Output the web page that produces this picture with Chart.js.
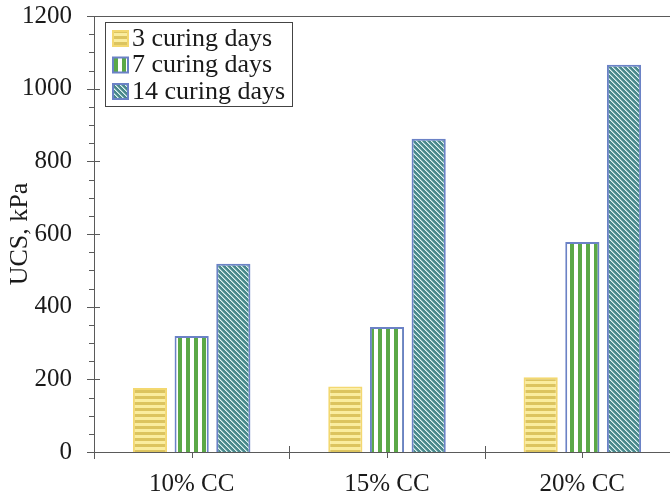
<!DOCTYPE html>
<html>
<head>
<meta charset="utf-8">
<script src="https://cdn.jsdelivr.net/npm/chart.js@4"></script>
<style>
  html, body { margin: 0; padding: 0; background: #fff; }
  #wrap { width: 670px; height: 496px; overflow: hidden; position: relative; }
  canvas { display: block; }
</style>
</head>
<body>
<div id="wrap"><canvas id="myChart" width="682" height="496"></canvas></div>
<script>
const categories = ['10% CC', '15% CC', '20% CC'];
const seriesLabels = ['3 curing days', '7 curing days', '14 curing days'];
const days3 = [176, 180, 206];
const days7 = [319, 344, 578];
const days14 = [518, 862, 1066];
const yTickLabels = [0, 200, 400, 600, 800, 1000, 1200];

const FONT = '"Liberation Serif", "Times New Roman", serif';

function makePattern(kind) {
    const c = document.createElement('canvas');
    const g = c.getContext('2d');
    if (kind === 'h') {
        c.width = 8; c.height = 6;
        g.fillStyle = '#faed9f';
        g.fillRect(0, 0, 8, 6);
        g.fillStyle = '#dcc45f';
        g.fillRect(0, 0, 8, 3);
    } else if (kind === 'v') {
        c.width = 8; c.height = 8;
        g.fillStyle = '#ffffff';
        g.fillRect(0, 0, 8, 8);
        g.fillStyle = '#5ba847';
        g.fillRect(2, 0, 4, 8);
    } else {
        c.width = 5; c.height = 5;
        g.fillStyle = '#4a898c';
        g.fillRect(0, 0, 5, 5);
        for (let i = 0; i < 5; i++) {
            g.fillStyle = '#e2f1f1';
            g.fillRect(i, i, 1, 1);
            g.fillStyle = '#93c0c1';
            g.fillRect((i + 1) % 5, i, 1, 1);
        }
    }
    return g.createPattern(c, 'repeat');
}

const fills = [makePattern('h'), makePattern('v'), makePattern('d')];
const borders = ['#f3d870', '#6b82c6', '#6b82c6'];

// axis ticks, frame and legend box
const decorations = {
    id: 'decorations',
    afterDraw(chart) {
        const ctx = chart.ctx;
        const area = chart.chartArea;
        const y = chart.scales.y;
        const x = chart.scales.x;
        ctx.save();
        ctx.strokeStyle = '#5a5a5a';
        ctx.lineWidth = 1;
        // frame
        ctx.beginPath();
        ctx.moveTo(area.left, area.top + 0.5);
        ctx.lineTo(area.right, area.top + 0.5);
        ctx.moveTo(area.left + 0.5, area.top);
        ctx.lineTo(area.left + 0.5, area.bottom);
        ctx.moveTo(area.left, area.bottom + 0.5);
        ctx.lineTo(area.right, area.bottom + 0.5);
        ctx.stroke();
        // y ticks
        ctx.beginPath();
        for (let v = 0; v <= 1200; v += 50) {
            const py = Math.round(y.getPixelForValue(v)) + 0.5;
            const major = v % 200 === 0;
            ctx.moveTo(area.left - (major ? 7 : 5), py);
            ctx.lineTo(area.left + (major ? 6 : 0), py);
        }
        // x ticks
        for (let i = 0; i <= categories.length; i++) {
            const px = Math.round(area.left + i * (area.right - area.left) / categories.length) + 0.5;
            ctx.moveTo(px, area.bottom - 6);
            ctx.lineTo(px, area.bottom + 7);
        }
        for (let i = 0; i < categories.length; i++) {
            const px = Math.round(x.getPixelForValue(i)) + 0.5;
            ctx.moveTo(px, area.bottom);
            ctx.lineTo(px, area.bottom + 6);
        }
        ctx.stroke();

        // legend
        const lx = 105, ly = 22, lw = 187, lh = 84;
        ctx.fillStyle = '#fff';
        ctx.fillRect(lx, ly, lw, lh);
        ctx.strokeStyle = '#444';
        ctx.strokeRect(lx + 0.5, ly + 0.5, lw, lh);
        ctx.font = '26px ' + FONT;
        ctx.textBaseline = 'middle';
        chart.data.datasets.forEach((ds, i) => {
            const cy = ly + 16 + i * 26.5;
            ctx.fillStyle = ds.backgroundColor;
            ctx.fillRect(113, cy - 7, 15, 15);
            ctx.strokeStyle = ds.borderColor;
            ctx.lineWidth = 2;
            ctx.strokeRect(113, cy - 7, 15, 15);
            ctx.fillStyle = '#1a1a1a';
            ctx.fillText(ds.label, 132, cy + 1);
        });
        ctx.restore();
    }
};

const ctx = document.getElementById('myChart').getContext('2d');
const myChart = new Chart(ctx, {
    type: 'bar',
    data: {
        labels: categories,
        datasets: [days3, days7, days14].map((d, i) => ({
            label: seriesLabels[i],
            data: d,
            backgroundColor: fills[i],
            borderColor: borders[i],
            borderWidth: 2,
            categoryPercentage: 0.64,
            barPercentage: 0.82
        }))
    },
    options: {
        responsive: false,
        animation: false,
        layout: { padding: { top: 16, right: 2, left: 0, bottom: 0 } },
        plugins: {
            legend: { display: false },
            tooltip: { enabled: false }
        },
        scales: {
            x: {
                grid: { display: false, drawTicks: false },
                border: { display: false },
                ticks: { color: '#1a1a1a', font: { family: FONT, size: 25 }, padding: 17, maxRotation: 0 },
                afterFit(scale) {
                    scale.height = 44;
                    scale.paddingLeft = 0;
                    scale.paddingRight = 0;
                }
            },
            y: {
                min: 0,
                max: 1200,
                afterBuildTicks(scale) {
                    scale.ticks = yTickLabels.map(v => ({ value: v }));
                },
                grid: { display: false, drawTicks: false },
                border: { display: false },
                ticks: {
                    color: '#1a1a1a',
                    font: { family: FONT, size: 25 },
                    padding: 22,
                    callback: v => String(v)
                },
                title: {
                    display: true,
                    text: 'UCS, kPa',
                    color: '#1a1a1a',
                    font: { family: FONT, size: 26 },
                    padding: { top: 5, bottom: 0 }
                },
                afterFit(scale) {
                    scale.width = 94;
                    scale.paddingTop = 0;
                    scale.paddingBottom = 0;
                }
            }
        }
    },
    plugins: [decorations]
});
</script>
</body>
</html>
